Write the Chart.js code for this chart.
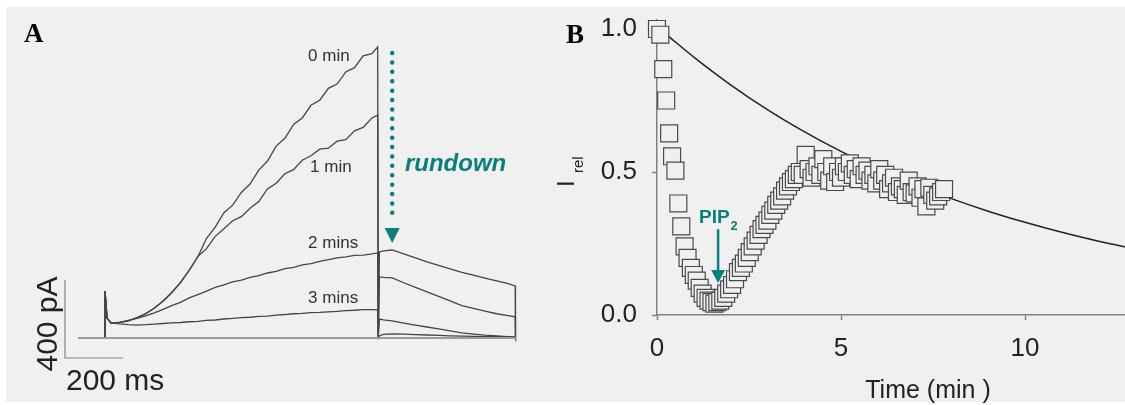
<!DOCTYPE html>
<html>
<head>
<meta charset="utf-8">
<script src="https://cdn.jsdelivr.net/npm/chart.js@4.4.0/dist/chart.umd.min.js"></script>
<style>
  body { margin: 0; background: #fff; }
  #frame { position: relative; width: 1125px; height: 405px; overflow: hidden; }
  #panel { position: absolute; left: 6px; top: 7px; width: 1119px; height: 395px; background: #f0f0f0; }
  canvas { position: absolute; top: 0; }
  #chartA { left: 0; }
  #chartB { left: 550px; }
</style>
</head>
<body>
<div id="frame">
  <div id="panel"></div>
  <canvas id="chartA" width="550" height="405"></canvas>
  <canvas id="chartB" width="575" height="405"></canvas>
</div>
<script>
// ---- Panel A: current traces (time in ms, current in pA) ----
const pulseT = [0, 0, 7, 20, 50, 80, 110, 140, 170, 200, 230, 260, 290, 320, 350, 380, 410, 440, 470,
                500, 530, 560, 590, 620, 650, 680, 710, 740, 770, 800, 830, 860, 890, 920, 940];
const pulse0min = [0, 241, 102, 77, 80, 87, 104, 123, 153, 188, 233, 283, 347, 416, 511, 568, 642, 681, 746,
                   789, 861, 907, 984, 1024, 1095, 1128, 1193, 1219, 1280, 1302, 1364, 1386, 1447, 1458, 1492];
const pulse1min = [0, 241, 102, 77, 79, 87, 103, 125, 152, 189, 232, 285, 345, 418, 458, 521, 560, 601, 622,
                   665, 699, 764, 793, 842, 863, 911, 934, 968, 973, 1009, 1017, 1062, 1080, 1128, 1143];
const pulse2min = [0, 241, 102, 77, 80, 90, 100, 113, 128, 146, 166, 182, 205, 222, 240, 259, 272, 287, 297,
                   311, 319, 333, 341, 355, 362, 375, 381, 393, 401, 411, 416, 423, 425, 431, 436];
const pulse3min = [0, 241, 102, 77, 72, 68, 66, 68, 71, 74, 77, 79, 83, 85, 90, 92, 97, 100, 104,
                   106, 110, 112, 117, 120, 124, 126, 130, 131, 134, 136, 140, 142, 145, 145, 144];

const stepT = 942;   // end of the pulse
const endT = 1415;   // end of the tail
const tailT = [946, 960, 990, 1030, 1070, 1110, 1150, 1190, 1230, 1270, 1310, 1350, 1390, 1414];
const tail0min = [441, 446, 451, 431, 410, 390, 372, 354, 336, 322, 307, 292, 278, 267];
const tail1min = [313, 311, 308, 283, 259, 236, 213, 190, 166, 152, 138, 124, 114, 108];
const tail2min = [97, 92, 87, 76, 66, 56, 46, 36, 26, 20, 14, 10, 7, 5];
const tail3min = [10, 18, 21, 19, 17, 15, 13, 11, 9, 8, 7, 6, 5, 5];

const baselineT = [-93, 1417];
const baselineI = [0, 0];

// scale bars: 200 ms / 400 pA
const scaleBarT = [-138, -138, 62];
const scaleBarI = [297, -103, -103];

const traceLabels = ['0 min', '1 min', '2 mins', '3 mins'];
const traceLabelT = [700, 707, 700, 700];
const traceLabelI = [1446, 877, 487, 205];

// ---- Panel B: relative current vs time ----
const timeMin = [
  0.00, 0.09, 0.17, 0.25, 0.33, 0.41, 0.50, 0.58, 0.66, 0.75, 0.83, 0.92,
  1.00, 1.08, 1.16, 1.24, 1.32, 1.40, 1.48, 1.56, 1.64, 1.72, 1.80, 1.88,
  1.96, 2.04, 2.12, 2.20, 2.28, 2.36, 2.44, 2.52, 2.60, 2.68, 2.76, 2.84,
  2.92, 3.00, 3.08, 3.16, 3.24, 3.32, 3.40, 3.48, 3.56, 3.64, 3.72, 3.80,
  3.88, 3.96, 4.04, 4.12, 4.20, 4.28, 4.36, 4.44, 4.52, 4.60, 4.68, 4.76,
  4.84, 4.92, 5.00, 5.08, 5.16, 5.24, 5.32, 5.40, 5.48, 5.56, 5.64, 5.72,
  5.80, 5.88, 5.96, 6.04, 6.12, 6.20, 6.28, 6.36, 6.44, 6.52, 6.60, 6.68,
  6.76, 6.84, 6.92, 7.00, 7.08, 7.16, 7.24, 7.32, 7.40, 7.48, 7.56, 7.64,
  7.72, 7.80
];
const iRel = [
  1.00, 0.98, 0.86, 0.75, 0.635, 0.555, 0.505, 0.39, 0.31, 0.24, 0.20, 0.165,
  0.14, 0.12, 0.095, 0.075, 0.06, 0.05, 0.045, 0.04, 0.045, 0.05, 0.06, 0.075,
  0.09, 0.105, 0.125, 0.15, 0.165, 0.18, 0.20, 0.22, 0.24, 0.26, 0.28, 0.30,
  0.315, 0.33, 0.35, 0.365, 0.385, 0.40, 0.415, 0.435, 0.45, 0.465, 0.475, 0.49,
  0.50, 0.49, 0.56, 0.51, 0.48, 0.50, 0.52, 0.49, 0.545, 0.50, 0.47, 0.52,
  0.465, 0.50, 0.48, 0.52, 0.50, 0.53, 0.49, 0.51, 0.475, 0.52, 0.49, 0.505,
  0.47, 0.49, 0.46, 0.51, 0.47, 0.49, 0.44, 0.46, 0.48, 0.43, 0.45, 0.44,
  0.42, 0.47, 0.43, 0.425, 0.45, 0.41, 0.44, 0.38, 0.445, 0.42, 0.40, 0.415,
  0.43, 0.44
];

// exponential rundown fit
const fitT = [0.3, 1, 2, 3, 4, 5, 6, 7, 8, 9, 10, 11, 12, 13];
const fitV = [0.976, 0.902, 0.805, 0.718, 0.641, 0.572, 0.511, 0.456, 0.407, 0.363, 0.324, 0.289, 0.258, 0.231];

const xTicksB = [0, 5, 10];
const yTicksB = [0, 0.5, 1.0];

const teal = '#07807f';
const sansFont = "'Liberation Sans', Arial, sans-serif";
const serifFont = "'Liberation Serif', 'Times New Roman', serif";

Chart.defaults.font.family = sansFont;
Chart.defaults.animation = false;

function toPoints(xs, ys) {
  return xs.map((x, i) => ({ x: x, y: ys[i] }));
}

// pulse + drop to zero + tail + drop to zero
function buildTrace(pulseI, tailI) {
  const pts = toPoints(pulseT, pulseI);
  pts.push({ x: stepT, y: 0 });
  return pts.concat(toPoints(tailT, tailI), [{ x: endT, y: 0 }]);
}

function traceDataset(pulseI, tailI) {
  return {
    data: buildTrace(pulseI, tailI),
    borderColor: '#454545',
    borderWidth: 1.3,
    pointRadius: 0,
    tension: 0
  };
}

// text and arrows of panel A
const panelALabels = {
  id: 'panelALabels',
  afterDraw(chart) {
    const ctx = chart.ctx;
    const xs = chart.scales.x;
    const ys = chart.scales.y;
    ctx.save();

    // panel letter
    ctx.fillStyle = '#000';
    ctx.font = 'bold 27px ' + serifFont;
    ctx.textBaseline = 'alphabetic';
    ctx.fillText('A', 24, 42);

    // trace labels
    ctx.fillStyle = '#333';
    ctx.font = '17px ' + sansFont;
    ctx.textBaseline = 'middle';
    traceLabels.forEach((txt, i) => {
      ctx.fillText(txt, xs.getPixelForValue(traceLabelT[i]), ys.getPixelForValue(traceLabelI[i]));
    });

    // scale bar labels
    ctx.fillStyle = '#222';
    ctx.font = '30px ' + sansFont;
    ctx.textBaseline = 'alphabetic';
    ctx.fillText('200 ms', xs.getPixelForValue(scaleBarT[0]) + 1, 390);
    ctx.save();
    ctx.translate(57, ys.getPixelForValue((scaleBarI[0] + scaleBarI[1]) / 2) + 5);
    ctx.rotate(-Math.PI / 2);
    ctx.textAlign = 'center';
    ctx.fillText('400 pA', 0, 0);
    ctx.restore();

    // dotted rundown arrow
    const ax = xs.getPixelForValue(990);
    ctx.strokeStyle = teal;
    ctx.fillStyle = teal;
    ctx.lineWidth = 4.5;
    ctx.lineCap = 'round';
    ctx.setLineDash([0, 9.4]);
    ctx.beginPath();
    ctx.moveTo(ax, ys.getPixelForValue(1461));
    ctx.lineTo(ax, ys.getPixelForValue(595));
    ctx.stroke();
    ctx.setLineDash([]);
    const headTop = ys.getPixelForValue(564);
    const headTip = ys.getPixelForValue(487);
    ctx.beginPath();
    ctx.moveTo(ax - 7.5, headTop);
    ctx.lineTo(ax + 7.5, headTop);
    ctx.lineTo(ax, headTip);
    ctx.closePath();
    ctx.fill();

    ctx.font = 'italic bold 24px ' + sansFont;
    ctx.textBaseline = 'middle';
    ctx.fillText('rundown', xs.getPixelForValue(1034), ys.getPixelForValue(892));
    ctx.restore();
  }
};

const chartA = new Chart(document.getElementById('chartA'), {
  type: 'line',
  data: {
    datasets: [
      { data: toPoints(baselineT, baselineI), borderColor: '#9c9c9c', borderWidth: 2, pointRadius: 0 },
      traceDataset(pulse3min, tail3min),
      traceDataset(pulse2min, tail2min),
      traceDataset(pulse1min, tail1min),
      traceDataset(pulse0min, tail0min),
      { data: toPoints(scaleBarT, scaleBarI), borderColor: '#858585', borderWidth: 1.2, pointRadius: 0 }
    ]
  },
  options: {
    responsive: false,
    animation: false,
    layout: { padding: 0 },
    plugins: { legend: { display: false }, tooltip: { enabled: false } },
    scales: {
      x: { type: 'linear', display: false, min: -362, max: 1534 },
      y: { type: 'linear', display: false, min: -344, max: 1733 }
    }
  },
  plugins: [panelALabels]
});

// text and arrow of panel B
const panelBLabels = {
  id: 'panelBLabels',
  afterDraw(chart) {
    const ctx = chart.ctx;
    const xs = chart.scales.x;
    const ys = chart.scales.y;
    ctx.save();

    ctx.fillStyle = '#000';
    ctx.font = 'bold 27px ' + serifFont;
    ctx.textBaseline = 'alphabetic';
    ctx.fillText('B', 16, 43);

    // axis titles
    ctx.fillStyle = '#222';
    ctx.font = '25px ' + sansFont;
    ctx.textAlign = 'center';
    ctx.fillText('Time (min )', 378, 398);

    ctx.save();
    ctx.translate(24, 187);
    ctx.rotate(-Math.PI / 2);
    ctx.textAlign = 'left';
    ctx.font = '24px ' + sansFont;
    ctx.fillText('I', 0, 0);
    ctx.font = '15px ' + sansFont;
    ctx.fillText('rel', 14, 9);
    ctx.restore();

    // PIP2 label and arrow
    ctx.fillStyle = teal;
    ctx.strokeStyle = teal;
    ctx.textAlign = 'left';
    ctx.textBaseline = 'middle';
    ctx.font = 'bold 19px ' + sansFont;
    const lx = xs.getPixelForValue(1.14);
    const ly = ys.getPixelForValue(0.339);
    ctx.fillText('PIP', lx, ly);
    const w = ctx.measureText('PIP').width;
    ctx.font = 'bold 13px ' + sansFont;
    ctx.fillText('2', lx + w + 1, ly + 8);

    const ax = xs.getPixelForValue(1.66);
    const aTop = ys.getPixelForValue(0.30);
    const aHead = ys.getPixelForValue(0.157);
    const aTip = ys.getPixelForValue(0.112);
    ctx.lineWidth = 2.5;
    ctx.beginPath();
    ctx.moveTo(ax, aTop);
    ctx.lineTo(ax, aHead + 1);
    ctx.stroke();
    ctx.beginPath();
    ctx.moveTo(ax - 7, aHead);
    ctx.lineTo(ax + 7, aHead);
    ctx.lineTo(ax, aTip);
    ctx.closePath();
    ctx.fill();
    ctx.restore();
  }
};

const axisGrey = '#808080';

const chartB = new Chart(document.getElementById('chartB'), {
  type: 'scatter',
  data: {
    datasets: [
      {
        data: toPoints(timeMin, iRel),
        pointStyle: 'rect',
        pointRadius: 12,
        pointHoverRadius: 12,
        pointBorderWidth: 1.2,
        pointBackgroundColor: '#f0f0f0',
        pointBorderColor: '#4a4a4a',
        showLine: false,
        clip: false
      },
      {
        type: 'line',
        data: toPoints(fitT, fitV),
        borderColor: '#222',
        borderWidth: 1.5,
        pointRadius: 0,
        cubicInterpolationMode: 'monotone'
      }
    ]
  },
  options: {
    responsive: false,
    animation: false,
    layout: { padding: { left: 0, top: 20, right: 0, bottom: 0 }, autoPadding: false },
    plugins: { legend: { display: false }, tooltip: { enabled: false } },
    scales: {
      x: {
        type: 'linear',
        position: 'bottom',
        min: 0,
        max: 12.717,
        afterBuildTicks: s => { s.ticks = xTicksB.map(v => ({ value: v })); },
        afterFit: s => { s.height = 90; s.paddingLeft = 0; s.paddingRight = 0; },
        ticks: { padding: 13, color: '#222', font: { size: 26 }, maxRotation: 0, callback: v => String(v) },
        grid: { drawOnChartArea: false, drawTicks: true, tickLength: 5, tickColor: axisGrey, tickWidth: 1.5 },
        border: { color: axisGrey, width: 1.5 }
      },
      y: {
        type: 'linear',
        min: 0,
        max: 1.0315,
        afterBuildTicks: s => { s.ticks = yTicksB.map(v => ({ value: v })); },
        afterFit: s => { s.width = 107; s.paddingTop = 0; s.paddingBottom = 0; },
        ticks: { padding: 15, color: '#222', font: { size: 26 }, callback: v => v.toFixed(1) },
        grid: { drawOnChartArea: false, drawTicks: true, tickLength: 5, tickColor: axisGrey, tickWidth: 1.5 },
        border: { color: axisGrey, width: 1.5 }
      }
    }
  },
  plugins: [panelBLabels]
});
</script>
</body>
</html>
